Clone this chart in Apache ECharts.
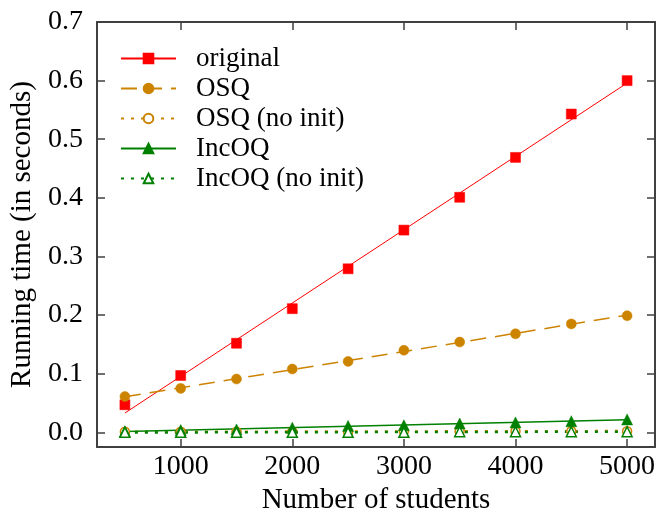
<!DOCTYPE html>
<html>
<head>
<meta charset="utf-8">
<title>Running time</title>
<script src="https://cdn.jsdelivr.net/npm/echarts@6/dist/echarts.min.js"></script>
<style>
html, body { margin: 0; padding: 0; background: #fff; }
#main { width: 658px; height: 514px; }
</style>
</head>
<body>
<div id="main"></div>
<script>
// 数据
var students = [500, 1000, 1500, 2000, 2500, 3000, 3500, 4000, 4500, 5000];
var original = [0.047, 0.097, 0.152, 0.211, 0.279, 0.345, 0.401, 0.469, 0.543, 0.600];
var osq = [0.061, 0.075, 0.091, 0.108, 0.121, 0.140, 0.154, 0.168, 0.185, 0.199];
var osqNoInit = [0.001, 0.001, 0.001, 0.001, 0.001, 0.002, 0.002, 0.002, 0.002, 0.002];
var incoq = [0.002, 0.004, 0.005, 0.008, 0.011, 0.012, 0.015, 0.017, 0.019, 0.022];
var incoqNoInit = [0.000, 0.000, 0.000, 0.000, 0.000, 0.000, 0.001, 0.001, 0.001, 0.001];
var xTicks = [1000, 2000, 3000, 4000, 5000];
var yTicks = [0, 0.1, 0.2, 0.3, 0.4, 0.5, 0.6, 0.7];

var FONT = 'Liberation Serif';
var FRAME = '#404040';

// 最小二乘拟合直线
function fitLine(xs, ys) {
	var n = xs.length, mx = 0, my = 0;
	for (var i = 0; i < n; i++) { mx += xs[i]; my += ys[i]; }
	mx /= n; my /= n;
	var sxy = 0, sxx = 0;
	for (var j = 0; j < n; j++) {
		sxy += (xs[j] - mx) * (ys[j] - my);
		sxx += (xs[j] - mx) * (xs[j] - mx);
	}
	var b = sxy / sxx, a = my - b * mx;
	var x0 = xs[0], x1 = xs[n - 1];
	return [[x0, a + b * x0], [x1, a + b * x1]];
}

function pairs(ys) {
	return students.map(function (x, i) { return [x, ys[i]]; });
}

// 点 + 拟合线
function makeSeries(name, ys, color, lineType, lineWidth, symbol, size, hollow) {
	var pts = {
		name: name,
		type: 'line',
		data: pairs(ys),
		symbol: symbol,
		symbolSize: size,
		showAllSymbol: true,
		z: 3,
		lineStyle: { color: color, width: lineWidth, type: lineType, opacity: 0 },
		itemStyle: hollow
			? { color: '#fff', borderColor: color, borderWidth: 1.5 }
			: { color: color, borderColor: color, borderWidth: 0.5 },
		emphasis: { disabled: true }
	};
	var fit = {
		name: name + ' fit',
		type: 'line',
		data: fitLine(students, ys),
		showSymbol: false,
		silent: true,
		z: 2,
		lineStyle: { color: color, width: lineWidth, type: lineType, cap: 'butt' }
	};
	return [fit, pts];
}

var names = ['original', 'OSQ', 'OSQ (no init)', 'IncOQ', 'IncOQ (no init)'];
var series = [].concat(
	makeSeries('original', original, '#ff0000', 'solid', 1, 'rect', 10, false),
	makeSeries('OSQ', osq, '#cc8400', [16, 9], 1.5, 'circle', 10, false),
	makeSeries('OSQ (no init)', osqNoInit, '#cc8400', [3, 7], 2.5, 'circle', 9, true),
	makeSeries('IncOQ', incoq, '#008000', 'solid', 1.5, 'triangle', 11, false),
	makeSeries('IncOQ (no init)', incoqNoInit, '#008000', [3, 7], 2.5, 'triangle', 10, true)
);

// 四条边的刻度都朝内
function inTicks(vals) {
	return { show: true, inside: true, length: 8, customValues: vals, lineStyle: { color: FRAME, width: 1.5 } };
}
var frameLine = { show: true, onZero: false, lineStyle: { color: FRAME, width: 2 } };

var myChart = echarts.init(document.getElementById('main'));
var option = {
	animation: false,
	backgroundColor: '#fff',
	grid: { left: 97, right: 3, top: 22, bottom: 67, outerBoundsMode: 'none' },
	legend: {
		orient: 'vertical',
		left: 115,
		top: 40,
		itemWidth: 55,
		itemHeight: 12,
		itemGap: 3,
		data: names.map(function (n) { return { name: n, lineStyle: { opacity: 1 } }; }),
		textStyle: { fontFamily: FONT, fontSize: 27, color: '#000', padding: [0, 0, 0, 15] }
	},
	xAxis: [
		{
			type: 'value', min: 250, max: 5250, position: 'bottom',
			name: 'Number of students', nameLocation: 'middle', nameGap: 36,
			nameTextStyle: { fontFamily: FONT, fontSize: 29, color: '#000' },
			axisLine: frameLine,
			axisTick: inTicks(xTicks),
			splitLine: { show: false },
			axisLabel: {
				customValues: xTicks, margin: 6,
				fontFamily: FONT, fontSize: 28, color: '#000',
				formatter: function (v) { return String(v); }
			}
		},
		{
			type: 'value', min: 250, max: 5250, position: 'top',
			axisLine: frameLine, axisTick: inTicks(xTicks), splitLine: { show: false },
			axisLabel: { show: false }
		}
	],
	yAxis: [
		{
			type: 'value', min: -0.025, max: 0.7, position: 'left',
			name: 'Running time (in seconds)', nameLocation: 'middle', nameGap: 55, nameRotate: 90,
			nameTextStyle: { fontFamily: FONT, fontSize: 29, color: '#000' },
			axisLine: frameLine, axisTick: inTicks(yTicks), splitLine: { show: false },
			axisLabel: {
				customValues: yTicks, margin: 14,
				fontFamily: FONT, fontSize: 28, color: '#000',
				formatter: function (v) { return v.toFixed(1); }
			}
		},
		{
			type: 'value', min: -0.025, max: 0.7, position: 'right',
			axisLine: frameLine, axisTick: inTicks(yTicks), splitLine: { show: false },
			axisLabel: { show: false }
		}
	],
	series: series
};

myChart.setOption(option);
</script>
</body>
</html>
